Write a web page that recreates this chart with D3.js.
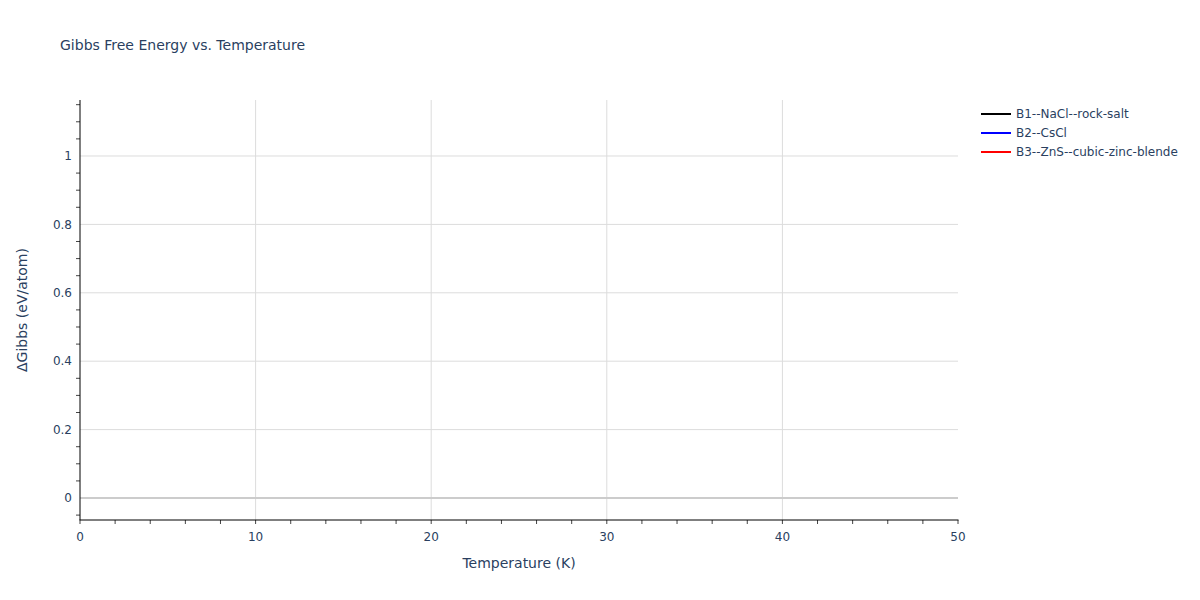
<!DOCTYPE html>
<html>
<head>
<meta charset="utf-8">
<script src="https://cdn.jsdelivr.net/npm/d3@7"></script>
<style>
  body { margin: 0; background: #fff; }
  text { font-family: "DejaVu Sans", verdana, arial, sans-serif; }
</style>
</head>
<body>
<svg id="chart" width="1200" height="600"></svg>
<script>
// series: the traces carry no visible points
const seriesNames = ["B1--NaCl--rock-salt", "B2--CsCl", "B3--ZnS--cubic-zinc-blende"];
const seriesColors = ["#000000", "#0000ff", "#ff0000"];
const temperature = [];
const gibbsB1 = [];
const gibbsB2 = [];
const gibbsB3 = [];
const xTicks = [0, 10, 20, 30, 40, 50];
const yTicks = [0, 0.2, 0.4, 0.6, 0.8, 1];

const SIZE = { left: 80, top: 100, width: 878, height: 420 };
const svg = d3.select("#chart");
const textColor = "#2a3f5f";

const x = d3.scaleLinear().domain([0, 50]).range([0, SIZE.width]);
const y = d3.scaleLinear().domain([-0.0643, 1.1637]).range([SIZE.height, 0]);

const g = svg.append("g").attr("transform", `translate(${SIZE.left},${SIZE.top})`);

// grid
g.append("g").selectAll("line").data(xTicks.filter(d => d > 0 && d < 50)).join("line")
  .attr("x1", d => x(d)).attr("x2", d => x(d))
  .attr("y1", 0).attr("y2", SIZE.height)
  .style("stroke", "#dcdcdc").style("stroke-width", 1)

g.append("g").selectAll("line").data(yTicks.filter(d => d !== 0)).join("line")
  .attr("x1", 0).attr("x2", SIZE.width)
  .attr("y1", d => y(d)).attr("y2", d => y(d))
  .style("stroke", "#dcdcdc").style("stroke-width", 1)

// zero line
g.append("line")
  .attr("x1", 0).attr("x2", SIZE.width)
  .attr("y1", y(0)).attr("y2", y(0))
  .style("stroke", "#cccccc").style("stroke-width", 2)

// traces
const traces = [gibbsB1, gibbsB2, gibbsB3];
const line = d3.line().x((d, i) => x(temperature[i])).y(d => y(d));
traces.forEach((vals, k) => {
  g.append("path")
    .datum(vals)
    .attr("d", line)
    .style("fill", "none")
    .style("stroke", seriesColors[k])
    .style("stroke-width", 2)
});

// x axis
const xAxis = g.append("g").attr("transform", `translate(0,${SIZE.height})`);
xAxis.append("g").selectAll("line").data(d3.range(0, 50.001, 2)).join("line")
  .attr("x1", d => x(d)).attr("x2", d => x(d))
  .attr("y1", 0).attr("y2", 4)
  .style("stroke", "#444").style("stroke-width", 1)
xAxis.append("line")
  .attr("x1", -0.5).attr("x2", SIZE.width + 0.5)
  .style("stroke", "#000").style("stroke-width", 1)
xAxis.append("g").selectAll("text").data(xTicks).join("text")
  .attr("x", d => x(d)).attr("y", 21)
  .attr("text-anchor", "middle")
  .style("font-size", "12px").style("fill", textColor)
  .text(d => d)

// y axis
const yAxis = g.append("g");
yAxis.append("g").selectAll("line")
  .data(d3.range(-0.05, 1.16, 0.05).filter(d => Math.abs(d / 0.2 - Math.round(d / 0.2)) > 0.01))
  .join("line")
  .attr("x1", -4).attr("x2", 0)
  .attr("y1", d => y(d)).attr("y2", d => y(d))
  .style("stroke", "#444").style("stroke-width", 1)
yAxis.append("line")
  .attr("y1", 0).attr("y2", SIZE.height)
  .style("stroke", "#000").style("stroke-width", 1)
yAxis.append("g").selectAll("text").data(yTicks).join("text")
  .attr("x", -8).attr("y", d => y(d)).attr("dy", "0.35em")
  .attr("text-anchor", "end")
  .style("font-size", "12px").style("fill", textColor)
  .text(d => d)

// titles
svg.append("text")
  .attr("x", 60).attr("y", 50)
  .style("font-size", "14px").style("fill", textColor)
  .text("Gibbs Free Energy vs. Temperature")

svg.append("text")
  .attr("x", SIZE.left + SIZE.width / 2).attr("y", 568)
  .attr("text-anchor", "middle")
  .style("font-size", "14px").style("fill", textColor)
  .text("Temperature (K)")

svg.append("text")
  .attr("transform", `translate(27,${SIZE.top + SIZE.height / 2}) rotate(-90)`)
  .attr("text-anchor", "middle")
  .style("font-size", "14px").style("fill", textColor)
  .text("ΔGibbs (eV/atom)")

// legend
const legend = svg.append("g").attr("transform", "translate(981,114)");
seriesNames.forEach((name, i) => {
  const item = legend.append("g").attr("transform", `translate(0,${i * 19})`);
  item.append("line")
    .attr("x1", 0).attr("x2", 30)
    .style("stroke", seriesColors[i]).style("stroke-width", 2)
  item.append("text")
    .attr("x", 35).attr("dy", "0.35em")
    .style("font-size", "12px").style("fill", textColor)
    .text(name)
});
</script>
</body>
</html>
